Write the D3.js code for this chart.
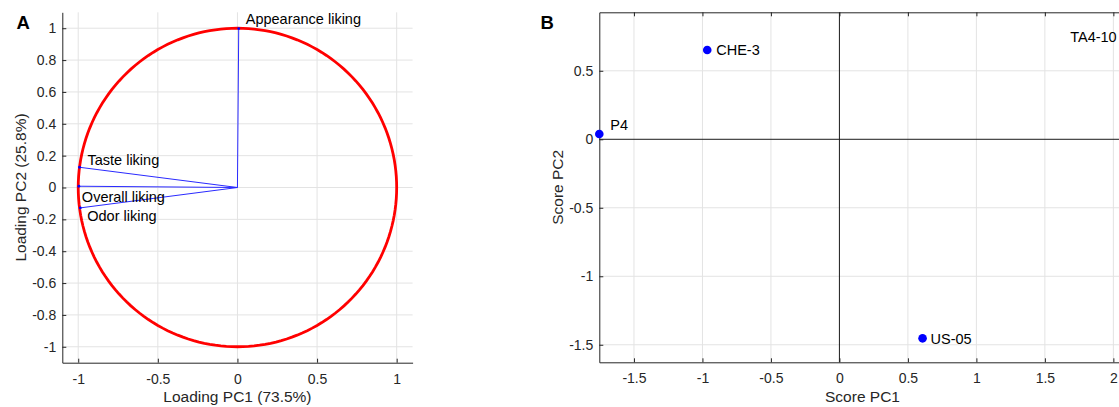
<!DOCTYPE html>
<html>
<head>
<meta charset="utf-8">
<script src="https://cdn.jsdelivr.net/npm/d3@7"></script>
<style>
  body { margin: 0; background: #fff; }
  svg { display: block; font-family: "Liberation Sans", Arial, Helvetica, sans-serif; }
</style>
</head>
<body>
<div id="chart"></div>
<script>
// Panel A: loadings
const loadingVars = ["Appearance liking", "Taste liking", "Overall liking", "Odor liking"];
const loadingPC1 = [0.008, -0.992, -0.996, -0.987];
const loadingPC2 = [0.998, 0.127, 0.008, -0.128];
const loadXTicks = [-1, -0.5, 0, 0.5, 1];
const loadYTicks = [-1, -0.8, -0.6, -0.4, -0.2, 0, 0.2, 0.4, 0.6, 0.8, 1];

// Panel B: scores
const strains = ["P4", "CHE-3", "US-05", "TA4-10"];
const scorePC1 = [-1.753, -0.965, 0.607, 2.09];
const scorePC2 = [0.039, 0.652, -1.453, 0.747];
const scoreXTicks = [-1.5, -1, -0.5, 0, 0.5, 1, 1.5, 2];
const scoreYTicks = [-1.5, -1, -0.5, 0, 0.5];

const width = 1119;
const height = 407;
const gridColor = "#e3e3e3";
const axisColor = "#262626";

// label placement (pixels from the marker)
const loadLabelOffset = {
  "Appearance liking": [7, -5],
  "Taste liking": [8, -2],
  "Overall liking": [3, 16],
  "Odor liking": [7, 13]
};
const scoreLabelOffset = {
  "P4": [11, -4, "start"],
  "CHE-3": [9, 5.5, "start"],
  "US-05": [8, 5.5, "start"],
  "TA4-10": [-9, 5.5, "end"]
};

const svg = d3.select("#chart")
  .append("svg")
  .attr("width", width)
  .attr("height", height);

function drawGrid(g, x, y, xt, yt) {
  g.append("g").selectAll("line")
    .data(xt)
    .join("line")
    .attr("x1", d => x(d)).attr("x2", d => x(d))
    .attr("y1", y.range()[0]).attr("y2", y.range()[1])
    .attr("stroke", gridColor);
  g.append("g").selectAll("line")
    .data(yt)
    .join("line")
    .attr("y1", d => y(d)).attr("y2", d => y(d))
    .attr("x1", x.range()[0]).attr("x2", x.range()[1])
    .attr("stroke", gridColor);
}

function styleAxis(a) {
  a.selectAll("path.domain").attr("stroke", axisColor).attr("stroke-width", 1);
  a.selectAll(".tick line").attr("stroke", axisColor);
  a.selectAll(".tick text").attr("fill", axisColor).attr("font-size", "14px")
    .attr("font-family", "Liberation Sans, Arial, sans-serif");
}

function drawAxes(g, x, y, xt, yt, box) {
  const xa = g.append("g")
    .attr("transform", `translate(0,${y.range()[0]})`)
    .call(d3.axisBottom(x).tickValues(xt).tickSizeInner(-4).tickSizeOuter(0)
      .tickPadding(11).tickFormat(d => String(d)));
  styleAxis(xa);
  const ya = g.append("g")
    .attr("transform", `translate(${x.range()[0]},0)`)
    .call(d3.axisLeft(y).tickValues(yt).tickSizeInner(-4).tickSizeOuter(0)
      .tickPadding(6).tickFormat(d => String(d)));
  styleAxis(ya);
  if (box) {
    const ta = g.append("g")
      .attr("transform", `translate(0,${y.range()[1]})`)
      .call(d3.axisTop(x).tickValues(xt).tickSizeInner(-4).tickSizeOuter(0)
        .tickFormat(""));
    styleAxis(ta);
  }
}

// ---------- Panel A ----------
const xA = d3.scaleLinear().domain([-1.1, 1.1]).range([62.3, 412.6]);
const yA = d3.scaleLinear().domain([-1.1, 1.1]).range([362.7, 12.3]);
const gA = svg.append("g");

drawGrid(gA, xA, yA, loadXTicks, loadYTicks);

// unit circle
const circlePts = d3.range(0, 361, 2).map(a => [Math.cos(a * Math.PI / 180), Math.sin(a * Math.PI / 180)]);
gA.append("path")
  .datum(circlePts)
  .attr("d", d3.line().x(d => xA(d[0])).y(d => yA(d[1])))
  .attr("fill", "none")
  .attr("stroke", "#ff0000")
  .attr("stroke-width", 2.8);

const loadings = loadingVars.map((name, i) => ({ name, pc1: loadingPC1[i], pc2: loadingPC2[i] }));

gA.selectAll("line.vec")
  .data(loadings)
  .join("line")
  .attr("class", "vec")
  .attr("x1", xA(0)).attr("y1", yA(0))
  .attr("x2", d => xA(d.pc1)).attr("y2", d => yA(d.pc2))
  .attr("stroke", "#2a2aff")
  .attr("stroke-width", 1);

gA.selectAll("circle.tip")
  .data(loadings)
  .join("circle")
  .attr("class", "tip")
  .attr("cx", d => xA(d.pc1)).attr("cy", d => yA(d.pc2))
  .attr("r", 1.4)
  .attr("fill", "#0000ff");

gA.selectAll("text.vlabel")
  .data(loadings)
  .join("text")
  .attr("class", "vlabel")
  .attr("x", d => xA(d.pc1) + loadLabelOffset[d.name][0])
  .attr("y", d => yA(d.pc2) + loadLabelOffset[d.name][1])
  .attr("font-size", "14.5px")
  .attr("fill", "#000")
  .text(d => d.name);

drawAxes(gA, xA, yA, loadXTicks, loadYTicks, false);

gA.append("text")
  .attr("x", (xA.range()[0] + xA.range()[1]) / 2)
  .attr("y", 401.5)
  .attr("text-anchor", "middle")
  .attr("font-size", "15.5px")
  .attr("fill", axisColor)
  .text("Loading PC1 (73.5%)");

gA.append("text")
  .attr("transform", `translate(25.5,${(yA.range()[0] + yA.range()[1]) / 2}) rotate(-90)`)
  .attr("text-anchor", "middle")
  .attr("font-size", "15.5px")
  .attr("fill", axisColor)
  .text("Loading PC2 (25.8%)");

gA.append("text")
  .attr("x", 16.5).attr("y", 28.5)
  .attr("font-size", "18.5px")
  .attr("font-weight", "bold")
  .attr("fill", "#000")
  .text("A");

// ---------- Panel B ----------
const xB = d3.scaleLinear().domain([-1.753, 2.09]).range([599.3, 1125.7]);
const yB = d3.scaleLinear().domain([-1.628, 0.927]).range([362.3, 12.3]);
const gB = svg.append("g");

drawGrid(gB, xB, yB, scoreXTicks.filter(d => d !== 0), scoreYTicks.filter(d => d !== 0));

// zero lines
gB.append("line")
  .attr("x1", xB(0)).attr("x2", xB(0))
  .attr("y1", yB.range()[0]).attr("y2", yB.range()[1])
  .attr("stroke", "#1a1a1a").attr("stroke-width", 1);
gB.append("line")
  .attr("y1", yB(0)).attr("y2", yB(0))
  .attr("x1", xB.range()[0]).attr("x2", xB.range()[1])
  .attr("stroke", "#1a1a1a").attr("stroke-width", 1);

drawAxes(gB, xB, yB, scoreXTicks, scoreYTicks, true);

const scores = strains.map((name, i) => ({ name, pc1: scorePC1[i], pc2: scorePC2[i] }));

gB.selectAll("circle.pt")
  .data(scores)
  .join("circle")
  .attr("class", "pt")
  .attr("cx", d => xB(d.pc1)).attr("cy", d => yB(d.pc2))
  .attr("r", 4.3)
  .attr("fill", "#0000ff");

gB.selectAll("text.slabel")
  .data(scores)
  .join("text")
  .attr("class", "slabel")
  .attr("x", d => xB(d.pc1) + scoreLabelOffset[d.name][0])
  .attr("y", d => yB(d.pc2) + scoreLabelOffset[d.name][1])
  .attr("text-anchor", d => scoreLabelOffset[d.name][2])
  .attr("font-size", "14.5px")
  .attr("fill", "#000")
  .text(d => d.name);

gB.append("text")
  .attr("x", (xB.range()[0] + xB.range()[1]) / 2)
  .attr("y", 401.5)
  .attr("text-anchor", "middle")
  .attr("font-size", "15.5px")
  .attr("fill", axisColor)
  .text("Score PC1");

gB.append("text")
  .attr("transform", `translate(${xB.range()[0] - 42 + 5.5},${(yB.range()[0] + yB.range()[1]) / 2}) rotate(-90)`)
  .attr("text-anchor", "middle")
  .attr("font-size", "15.5px")
  .attr("fill", axisColor)
  .text("Score PC2");

gB.append("text")
  .attr("x", 540.5).attr("y", 28.5)
  .attr("font-size", "18.5px")
  .attr("font-weight", "bold")
  .attr("fill", "#000")
  .text("B");
</script>
</body>
</html>
